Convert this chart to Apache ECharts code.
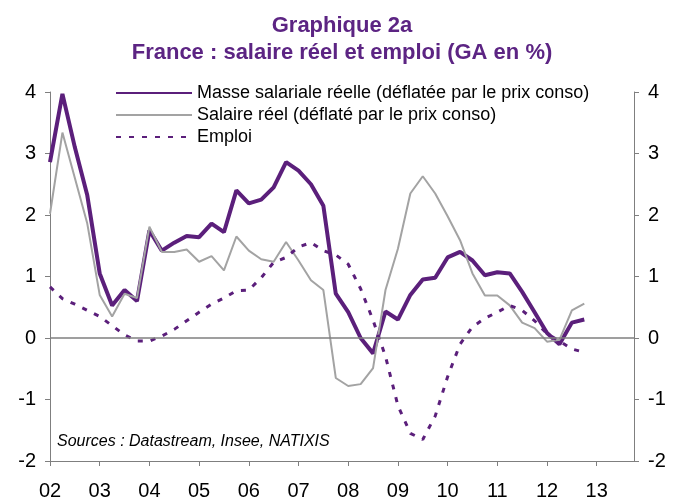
<!DOCTYPE html>
<html>
<head>
<meta charset="utf-8">
<script src="https://cdn.jsdelivr.net/npm/echarts@6/dist/echarts.min.js"></script>
<style>
  html, body { margin: 0; padding: 0; background: #fff; }
  #chart { width: 682px; height: 501px; }
</style>
</head>
<body>
<div id="chart"></div>
<script>
// quarterly data, 2002T1 .. 2012T4 (GA en %)
const yearLabels = ['02', '03', '04', '05', '06', '07', '08', '09', '10', '11', '12', '13'];

const masseSalariale = [
  2.86, 3.97, 3.1, 2.32, 1.05, 0.53, 0.78, 0.6,
  1.75, 1.42, 1.55, 1.66, 1.64, 1.86, 1.72, 2.4,
  2.19, 2.25, 2.45, 2.86, 2.72, 2.5, 2.15, 0.72,
  0.42, 0.0, -0.25, 0.43, 0.3, 0.7, 0.95, 0.98,
  1.31, 1.4, 1.26, 1.02, 1.07, 1.05, 0.75, 0.42,
  0.08, -0.1, 0.25, 0.3,
];

const salaireReel = [
  2.02, 3.34, 2.6, 1.86, 0.7, 0.35, 0.72, 0.65,
  1.81, 1.4, 1.4, 1.44, 1.24, 1.33, 1.1, 1.65,
  1.42, 1.28, 1.24, 1.56, 1.26, 0.94, 0.78, -0.65,
  -0.78, -0.75, -0.49, 0.78, 1.45, 2.35, 2.63, 2.35,
  1.98, 1.59, 1.05, 0.69, 0.69, 0.53, 0.25, 0.16,
  -0.06, -0.03, 0.45, 0.56,
];

const emploi = [
  0.83, 0.64, 0.55, 0.45, 0.35, 0.2, 0.05, -0.05,
  -0.05, 0.03, 0.14, 0.28, 0.42, 0.55, 0.65, 0.77,
  0.78, 0.98, 1.23, 1.31, 1.48, 1.55, 1.42, 1.35,
  1.2, 0.8, 0.29, -0.3, -1.1, -1.55, -1.65, -1.27,
  -0.63, -0.1, 0.18, 0.32, 0.42, 0.53, 0.45, 0.28,
  0.07, -0.05, -0.18, -0.23,
];

const yTicks = [-2, -1, 0, 1, 2, 3, 4];

// one category per quarter, label only on the first quarter
const quarters = [];
yearLabels.forEach((y) => {
  for (let q = 1; q <= 4; q++) quarters.push(y + 'T' + q);
});
const isYearStart = (index) => index % 4 === 0;

const purple = '#5b1f7b';
const grey = '#a3a3a3';
const axisGrey = '#7f7f7f';
const font = '"Liberation Sans", Arial, sans-serif';

function yAxisDef(position) {
  return {
    type: 'value',
    position,
    min: yTicks[0],
    max: yTicks[yTicks.length - 1],
    interval: 1,
    axisLine: { show: true, lineStyle: { color: axisGrey, width: 1 } },
    axisTick: { show: true, length: 5, lineStyle: { color: axisGrey } },
    axisLabel: { color: '#000', fontSize: 20, fontFamily: font, margin: 14 },
    splitLine: { show: false },
  };
}

const chart = echarts.init(document.getElementById('chart'));

chart.setOption({
  backgroundColor: '#fff',
  animation: false,
  title: {
    text: 'Graphique 2a\nFrance : salaire réel et emploi (GA en %)',
    left: 337,
    top: 7,
    textAlign: 'center',
    textStyle: { color: '#5c2483', fontSize: 22, fontWeight: 'bold', fontFamily: font, lineHeight: 27 },
  },
  legend: {
    orient: 'vertical',
    left: 110,
    top: 79,
    itemWidth: 76,
    itemHeight: 14,
    itemGap: 4,
    itemStyle: { opacity: 0 },
    textStyle: { color: '#000', fontSize: 18, fontFamily: font },
    data: ['Masse salariale réelle (déflatée par le prix conso)', 'Salaire réel (déflaté par le prix conso)', 'Emploi'],
  },
  grid: { left: 50, right: 48, top: 92, bottom: 39 },
  xAxis: {
    type: 'category',
    data: quarters,
    boundaryGap: false,
    axisLine: { onZero: false, lineStyle: { color: axisGrey, width: 1 } },
    axisTick: { show: true, length: 5, interval: (i) => isYearStart(i), lineStyle: { color: axisGrey } },
    axisLabel: {
      color: '#000',
      fontSize: 20,
      fontFamily: font,
      margin: 20,
      interval: (i) => isYearStart(i),
      formatter: (value) => value.slice(0, 2),
    },
    splitLine: { show: false },
  },
  yAxis: [yAxisDef('left'), yAxisDef('right')],
  series: [
    {
      name: 'Masse salariale réelle (déflatée par le prix conso)',
      type: 'line',
      data: masseSalariale,
      symbol: 'none',
      lineStyle: { color: purple, width: 4 },
      itemStyle: { color: purple },
      markLine: {
        silent: true,
        symbol: 'none',
        label: { show: false },
        lineStyle: { color: axisGrey, width: 1.5, type: 'solid' },
        data: [{ yAxis: 0 }],
      },
      z: 2,
    },
    {
      name: 'Salaire réel (déflaté par le prix conso)',
      type: 'line',
      data: salaireReel,
      symbol: 'none',
      lineStyle: { color: grey, width: 2 },
      itemStyle: { color: grey },
      z: 3,
    },
    {
      name: 'Emploi',
      type: 'line',
      data: emploi,
      symbol: 'none',
      lineStyle: { color: purple, width: 3, type: [5, 8] },
      itemStyle: { color: purple },
      z: 4,
    },
  ],
  graphic: [
    {
      type: 'text',
      left: 57,
      top: 434,
      style: {
        text: 'Sources : Datastream, Insee, NATIXIS',
        fill: '#000',
        font: 'italic 16px "Liberation Sans", Arial, sans-serif',
      },
    },
  ],
});
</script>
</body>
</html>
